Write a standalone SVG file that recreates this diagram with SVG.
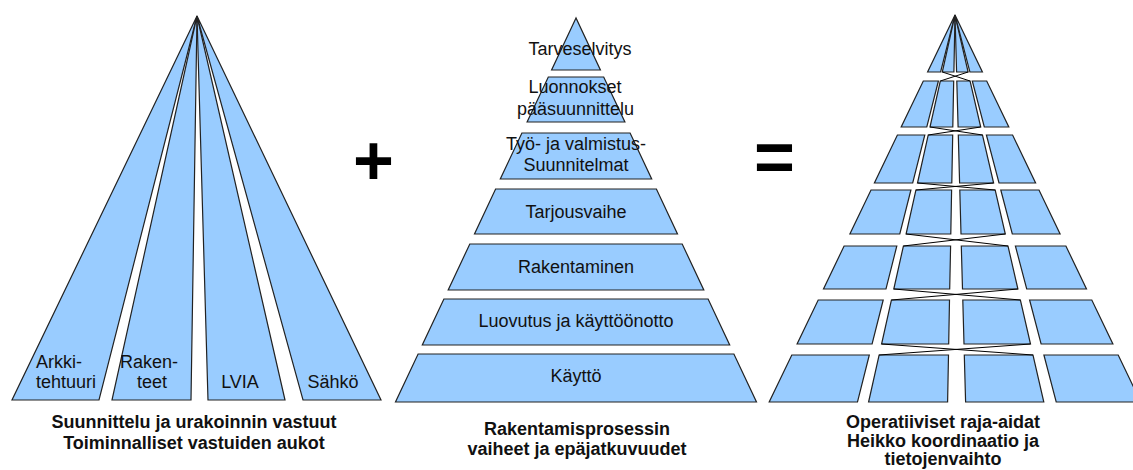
<svg xmlns="http://www.w3.org/2000/svg" width="1133" height="470" viewBox="0 0 1133 470">
<style>
.s{fill:#99CCFF;stroke:#222;stroke-width:1.2;stroke-linejoin:miter}
.t{font-family:"Liberation Sans",Arial,sans-serif;font-size:18px;fill:#111}
.m{text-anchor:middle}
.c{font-family:"Liberation Sans",Arial,sans-serif;font-size:18px;font-weight:bold;fill:#111;text-anchor:middle}
.op{font-family:"Liberation Sans",Arial,sans-serif;font-size:70px;font-weight:bold;fill:#000;text-anchor:middle}
.x{fill:none;stroke:#000;stroke-width:1}
</style>
<rect width="1133" height="470" fill="#fff"/>

<!-- Left pyramid -->
<g id="left-arkkitehtuuri">
<polygon class="s" points="197,16 12,400 99,400"/>
<text class="t" x="36" y="368">Arkki-</text>
<text class="t" x="36" y="388">tehtuuri</text>
</g>
<g id="left-rakenteet">
<polygon class="s" points="197,16 112,400 191,400"/>
<text class="t m" x="149" y="368">Raken-</text>
<text class="t m" x="152" y="388">teet</text>
</g>
<g id="left-lvia">
<polygon class="s" points="197,16 208,400 285,400"/>
<text class="t m" x="240" y="388">LVIA</text>
</g>
<g id="left-sahko">
<polygon class="s" points="197,16 303,400 381,400"/>
<text class="t m" x="333" y="388">Sähkö</text>
</g>
<g id="left-caption">
<text class="c" x="194" y="428">Suunnittelu ja urakoinnin vastuut</text>
<text class="c" x="194" y="449">Toiminnalliset vastuiden aukot</text>
</g>

<g id="plus"><text class="op" x="373.5" y="185">+</text></g>

<!-- Middle pyramid -->
<g id="mid-tarveselvitys">
<polygon class="s" points="576,18 551.6,70 600.4,70"/>
<text class="t m" x="580" y="55">Tarveselvitys</text>
</g>
<g id="mid-luonnokset">
<polygon class="s" points="548.3,77 603.7,77 624.9,122 527.1,122"/>
<text class="t m" x="575" y="93">Luonnokset</text>
<text class="t m" x="575.5" y="115">pääsuunnittelu</text>
</g>
<g id="mid-tyo">
<polygon class="s" points="521.9,133 630.1,133 651.7,179 500.3,179"/>
<text class="t m" x="576" y="150">Työ- ja valmistus-</text>
<text class="t m" x="576" y="171">Suunnitelmat</text>
</g>
<g id="mid-tarjousvaihe">
<polygon class="s" points="495.6,189 656.4,189 677.5,234 474.5,234"/>
<text class="t m" x="576" y="218">Tarjousvaihe</text>
</g>
<g id="mid-rakentaminen">
<polygon class="s" points="469.8,244 682.2,244 703.8,290 448.2,290"/>
<text class="t m" x="576" y="273">Rakentaminen</text>
</g>
<g id="mid-luovutus">
<polygon class="s" points="443.9,299 708.1,299 729.7,345 422.3,345"/>
<text class="t m" x="576" y="327">Luovutus ja käyttöönotto</text>
</g>
<g id="mid-kaytto">
<polygon class="s" points="418.1,354 733.9,354 756.5,402 395.5,402"/>
<text class="t m" x="576" y="382">Käyttö</text>
</g>
<g id="mid-caption">
<text class="c" x="577" y="435">Rakentamisprosessin</text>
<text class="c" x="577" y="455">vaiheet ja epäjatkuvuudet</text>
</g>

<g id="equals"><text class="op" x="774.5" y="181">=</text></g>

<!-- Right pyramid -->
<g id="right-row1">
<polygon class="s" points="955,15 927.6,72 940.6,72"/>
<polygon class="s" points="955,15 942.3,72 953.9,72"/>
<polygon class="s" points="955,15 956.6,72 968.1,72"/>
<polygon class="s" points="955,15 969.9,72 982.4,72"/>
</g>
<g id="right-row2">
<polygon class="s" points="923.3,81 938.4,81 926.8,127 901.2,127"/>
<polygon class="s" points="940.3,81 953.7,81 952.8,127 930.0,127"/>
<polygon class="s" points="956.8,81 970.1,81 980.7,127 958.1,127"/>
<polygon class="s" points="972.3,81 986.7,81 1008.8,127 984.3,127"/>
</g>
<g id="right-row3">
<polygon class="s" points="897.4,135 924.8,135 912.7,183 874.4,183"/>
<polygon class="s" points="928.2,135 952.7,135 951.8,183 917.5,183"/>
<polygon class="s" points="958.3,135 982.5,135 993.6,183 959.6,183"/>
<polygon class="s" points="986.4,135 1012.6,135 1035.6,183 999.0,183"/>
</g>
<g id="right-row4">
<polygon class="s" points="871,190 910.9,190 899.8,234 849.9,234"/>
<polygon class="s" points="915.9,190 951.6,190 950.8,234 906.1,234"/>
<polygon class="s" points="959.8,190 995.2,190 1005.3,234 961.0,234"/>
<polygon class="s" points="1000.8,190 1039,190 1060.1,234 1012.3,234"/>
</g>
<g id="right-row5">
<polygon class="s" points="844.1,246 896.8,246 886.0,289 823.5,289"/>
<polygon class="s" points="903.4,246 950.6,246 949.7,289 893.8,289"/>
<polygon class="s" points="961.3,246 1008.0,246 1017.9,289 962.5,289"/>
<polygon class="s" points="1015.4,246 1065.9,246 1086.5,289 1026.7,289"/>
</g>
<g id="right-row6">
<polygon class="s" points="818.2,300 883.2,300 872.1,344 797.1,344"/>
<polygon class="s" points="891.4,300 949.5,300 948.7,344 881.6,344"/>
<polygon class="s" points="962.8,300 1020.4,300 1030.5,344 964.0,344"/>
<polygon class="s" points="1029.6,300 1091.8,300 1112.9,344 1041.1,344"/>
</g>
<g id="right-row7">
<polygon class="s" points="791.8,355 869.3,355 857.5,402 769.2,402"/>
<polygon class="s" points="879.1,355 948.5,355 947.6,402 868.6,402"/>
<polygon class="s" points="964.3,355 1033.0,355 1043.8,402 965.6,402"/>
<polygon class="s" points="1043.9,355 1118.2,355 1140.8,402 1056.2,402"/>
</g>
<g id="connectors">
<path class="x" d="M942.3,72 L970.1,81 M940.3,81 L968.1,72"/>
<path class="x" d="M930,127 L982.5,135 M928.2,135 L980.7,127"/>
<path class="x" d="M917.5,183 L995.2,190 M915.9,190 L993.6,183"/>
<path class="x" d="M906.1,234 L1008,246 M903.4,246 L1005.3,234"/>
<path class="x" d="M893.8,289 L1020.4,300 M891.4,300 L1017.9,289"/>
<path class="x" d="M881.6,344 L1033,355 M879.1,355 L1030.5,344"/>
</g>
<g id="right-caption">
<text class="c" x="943" y="428">Operatiiviset raja-aidat</text>
<text class="c" x="943" y="447">Heikko koordinaatio ja</text>
<text class="c" x="943" y="465">tietojenvaihto</text>
</g>
</svg>
